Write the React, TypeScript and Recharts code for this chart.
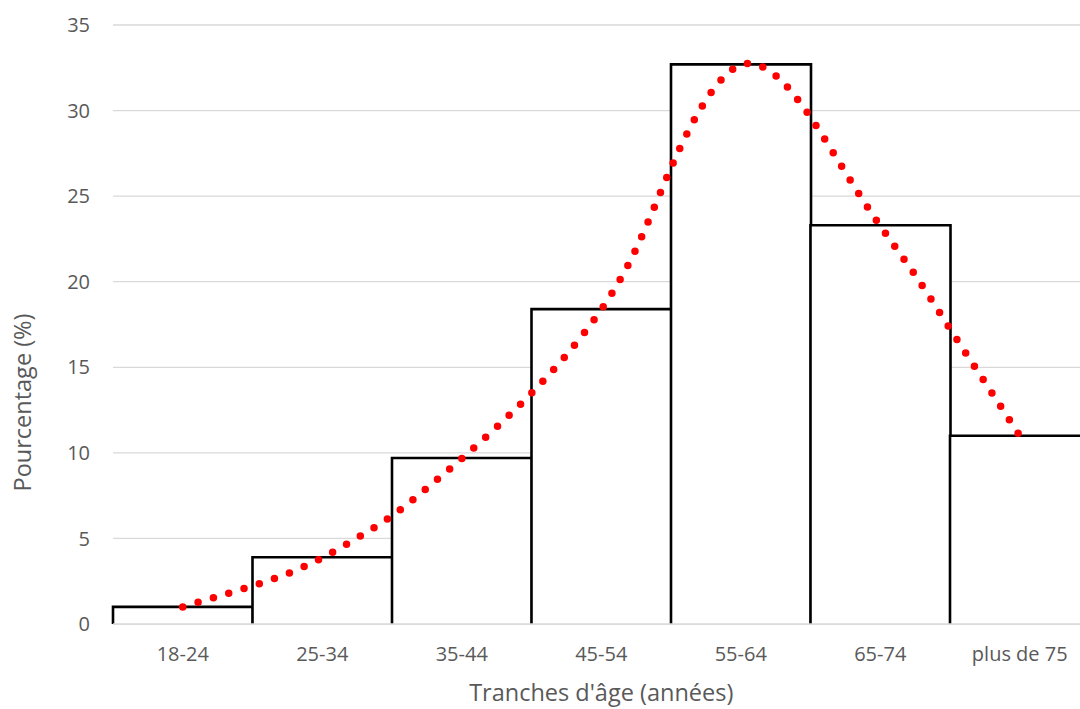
import React from 'react';
import {
  ComposedChart,
  Bar,
  Line,
  XAxis,
  YAxis,
  CartesianGrid,
  Label,
} from 'recharts';

// Age brackets and their share of respondents (%)
const ageGroups = ['18-24', '25-34', '35-44', '45-54', '55-64', '65-74', 'plus de 75'];
const shares = [1.0, 3.9, 9.7, 18.4, 32.7, 23.3, 11.0];
const yTicks = [0, 5, 10, 15, 20, 25, 30, 35];

// Polynomial trend curve, sampled along the bracket index (1 = first bracket)
const trendPositions = [
  1, 1.25, 1.5, 1.75, 2, 2.25, 2.5, 2.75, 3, 3.25, 3.5, 3.75, 4,
  4.25, 4.5, 4.75, 5, 5.25, 5.5, 5.75, 6, 6.25, 6.5, 6.75, 7,
];
const trendValues = [
  1.0, 1.61, 2.23, 2.94, 3.87, 5.03, 6.32, 7.94, 9.67, 11.5, 13.49, 15.72, 18.37,
  21.92, 26.66, 30.6, 32.66, 32.05, 29.61, 26.39, 23.26, 20.39, 17.25, 14.13, 11.0,
];

const barData = ageGroups.map((group, i) => ({ group, share: shares[i] }));
const trendData = trendPositions.map((pos, i) => ({ pos, trend: trendValues[i] }));

const TEXT = '#595959';
const FONT = '"Open Sans", "Noto Sans", sans-serif';

// Open-bottom outline: left, top and right edges only
const OutlineBar = (props: any) => {
  const { x, y, width, height } = props;
  if (width == null || height == null) return null;
  const d = `M${x},${y + height} L${x},${y} L${x + width},${y} L${x + width},${y + height}`;
  return (
    <g>
      <rect x={x} y={y} width={width} height={height} fill="#ffffff" />
      <path d={d} fill="none" stroke="#000000" strokeWidth={2.6} />
    </g>
  );
};

const YTitle = (props: any) => {
  const vb = props.viewBox || {};
  const cx = 22;
  const cy = (vb.y ?? 25) + (vb.height ?? 599) / 2 + 78;
  return (
    <text
      x={cx}
      y={cy}
      transform={`rotate(-90 ${cx} ${cy})`}
      textAnchor="middle"
      dominantBaseline="central"
      fill={TEXT}
      fontFamily={FONT}
      fontSize={23.5}
    >
      Pourcentage (%)
    </text>
  );
};

const XTitle = (props: any) => {
  const vb = props.viewBox || {};
  const cx = (vb.x ?? 113) + (vb.width ?? 976) / 2;
  const cy = 692;
  return (
    <text
      x={cx}
      y={cy}
      textAnchor="middle"
      dominantBaseline="central"
      fill={TEXT}
      fontFamily={FONT}
      fontSize={23.5}
    >
      Tranches d'âge (années)
    </text>
  );
};

export default function App() {
  return (
    <div
      style={{
        position: 'fixed',
        left: 0,
        top: 0,
        width: 1080,
        height: 709,
        overflow: 'hidden',
        background: '#ffffff',
      }}
    >
      <ComposedChart
        width={1100}
        height={709}
        data={barData}
        margin={{ top: 25, right: 10.5, bottom: 0, left: 0 }}
        barCategoryGap={0}
        barGap={0}
      >
        <CartesianGrid vertical={false} stroke="#d9d9d9" strokeWidth={1.3} />
        <XAxis
          xAxisId="cat"
          dataKey="group"
          height={85}
          axisLine={{ stroke: '#d9d9d9', strokeWidth: 1.5 }}
          tickLine={false}
          tickSize={0}
          tickMargin={23}
          interval={0}
          tick={{ fill: TEXT, fontFamily: FONT, fontSize: 20 }}
        >
          <Label content={<XTitle />} />
        </XAxis>
        <XAxis
          xAxisId="trend"
          type="number"
          dataKey="pos"
          domain={[0.5, 7.5]}
          allowDataOverflow
          hide
        />
        <YAxis
          width={113}
          domain={[0, 35]}
          ticks={yTicks}
          axisLine={false}
          tickLine={false}
          tickSize={0}
          tickMargin={23}
          tick={{ fill: TEXT, fontFamily: FONT, fontSize: 20 }}
        >
          <Label content={<YTitle />} />
        </YAxis>
        <Bar
          xAxisId="cat"
          dataKey="share"
          shape={<OutlineBar />}
          isAnimationActive={false}
        />
        <Line
          xAxisId="trend"
          data={trendData}
          dataKey="trend"
          type="natural"
          stroke="#ff0000"
          strokeWidth={7.5}
          strokeLinecap="round"
          strokeDasharray="0 16"
          dot={false}
          activeDot={false}
          isAnimationActive={false}
        />
      </ComposedChart>
    </div>
  );
}
